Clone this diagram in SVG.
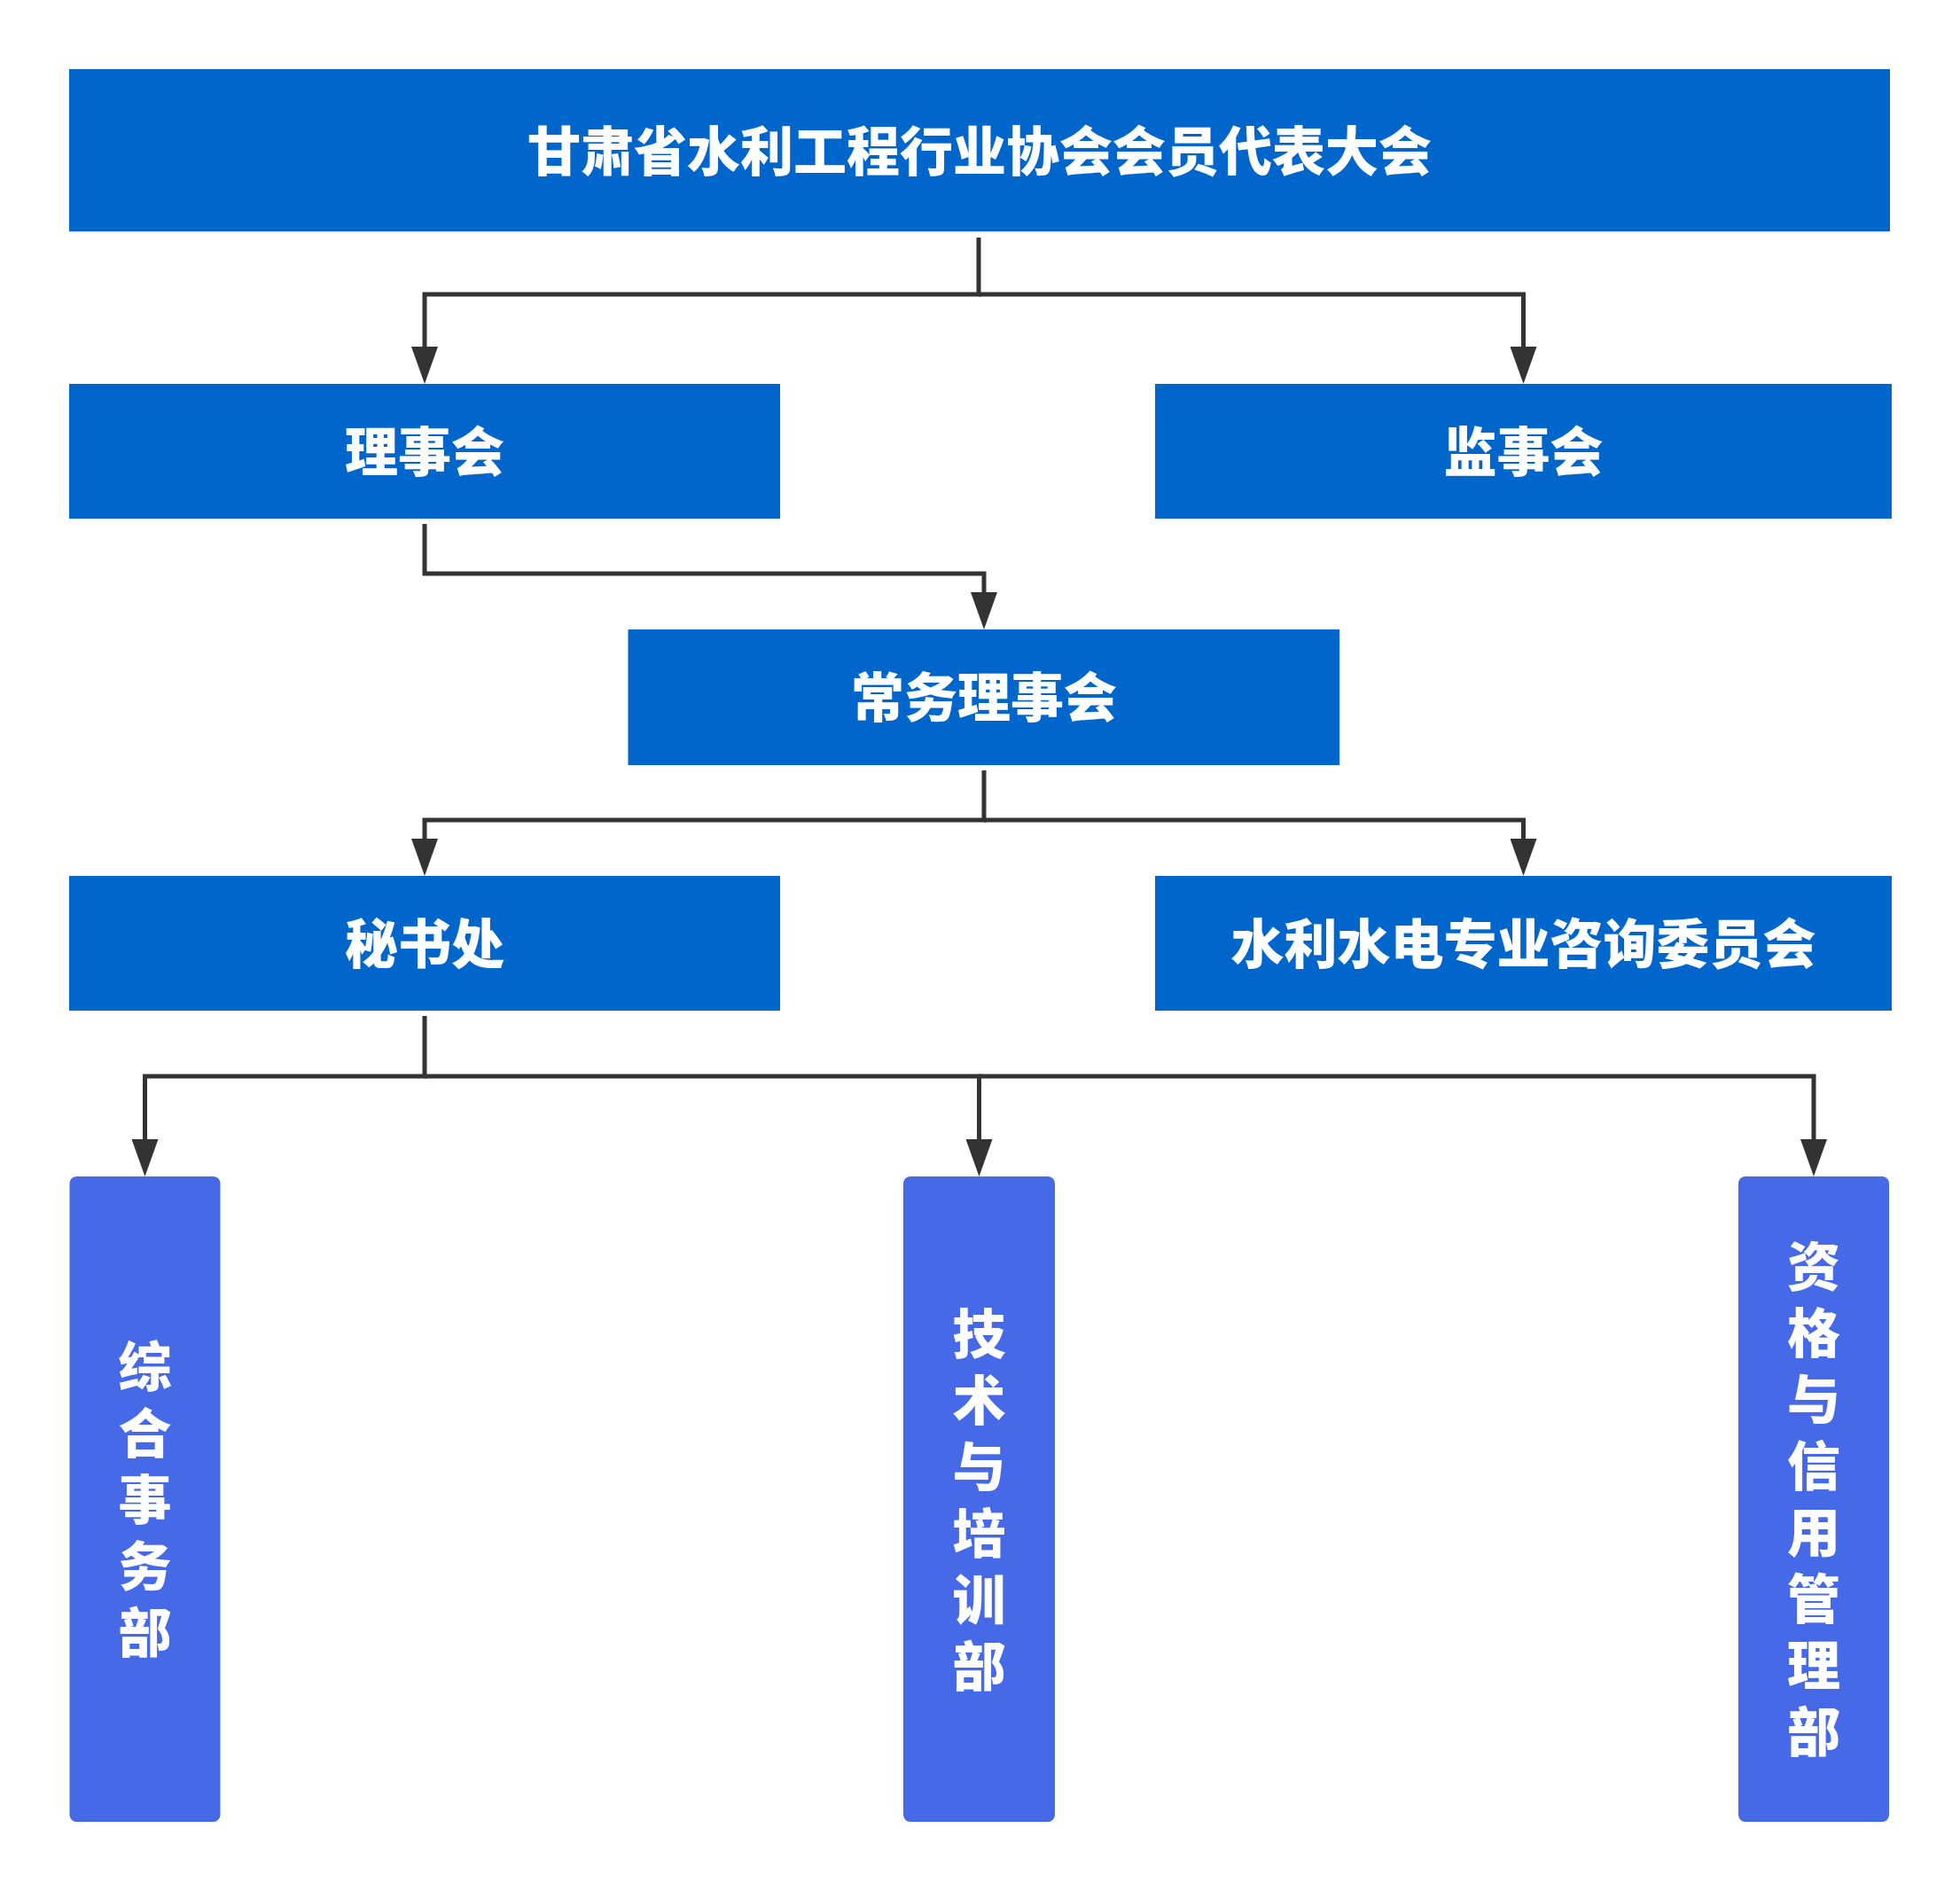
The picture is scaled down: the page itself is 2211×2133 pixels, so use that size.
<svg xmlns="http://www.w3.org/2000/svg" width="2211" height="2133" viewBox="0 0 2211 2133">
<style>
.box{fill:#0066CC}
.sub{fill:#4669E8}
.t{font-family:"Noto Sans CJK SC","Noto Sans",sans-serif;font-weight:900;font-size:60px;fill:#ffffff;text-anchor:middle;dominant-baseline:central}
.c{fill:none;stroke:#333333;stroke-width:5}
</style>
<defs>
<marker id="arr" viewBox="0 -15 42 30" markerWidth="42" markerHeight="30" markerUnits="userSpaceOnUse" refX="20" refY="0" orient="auto">
<path d="M0,-15 L42,0 L0,15 Z" fill="#333333"/>
</marker>
</defs>
<rect width="2211" height="2133" fill="#ffffff"/>
<g id="connectors">
<path class="c" d="M1104 268 V332 H479 V411" marker-end="url(#arr)"/>
<path class="c" d="M1104 332 H1718.5 V411" marker-end="url(#arr)"/>
<path class="c" d="M479 591 V647 H1110 V688" marker-end="url(#arr)"/>
<path class="c" d="M1110 869 V925 H479 V966" marker-end="url(#arr)"/>
<path class="c" d="M1110 925 H1718.5 V966" marker-end="url(#arr)"/>
<path class="c" d="M479 1146 V1214 H163.5 V1305" marker-end="url(#arr)"/>
<path class="c" d="M479 1214 H1104.5 V1305" marker-end="url(#arr)"/>
<path class="c" d="M1104.5 1214 H2046 V1305" marker-end="url(#arr)"/>
</g>
<g id="n-congress">
<rect class="box" x="78" y="78" width="2054" height="183"/>
<text class="t" x="1105" y="166">甘肃省水利工程行业协会会员代表大会</text>
</g>
<g id="n-council">
<rect class="box" x="78" y="433" width="802" height="152"/>
<text class="t" x="479" y="505">理事会</text>
</g>
<g id="n-supervisory">
<rect class="box" x="1303" y="433" width="831" height="152"/>
<text class="t" x="1718.5" y="505">监事会</text>
</g>
<g id="n-standing">
<rect class="box" x="708.5" y="710" width="802.5" height="153"/>
<text class="t" x="1110" y="782.5">常务理事会</text>
</g>
<g id="n-secretariat">
<rect class="box" x="78" y="988" width="802" height="152"/>
<text class="t" x="479" y="1060">秘书处</text>
</g>
<g id="n-consult">
<rect class="box" x="1303" y="988" width="831" height="152"/>
<text class="t" x="1718.5" y="1060">水利水电专业咨询委员会</text>
</g>
<g id="n-general">
<rect class="sub" x="78.5" y="1327" width="170" height="728" rx="8"/>
<text class="t"><tspan x="163.5" y="1537">综</tspan><tspan x="163.5" y="1612">合</tspan><tspan x="163.5" y="1687">事</tspan><tspan x="163.5" y="1762">务</tspan><tspan x="163.5" y="1837">部</tspan></text>
</g>
<g id="n-tech">
<rect class="sub" x="1019" y="1327" width="171" height="728" rx="8"/>
<text class="t"><tspan x="1104.5" y="1499.5">技</tspan><tspan x="1104.5" y="1574.5">术</tspan><tspan x="1104.5" y="1649.5">与</tspan><tspan x="1104.5" y="1724.5">培</tspan><tspan x="1104.5" y="1799.5">训</tspan><tspan x="1104.5" y="1874.5">部</tspan></text>
</g>
<g id="n-credit">
<rect class="sub" x="1961" y="1327" width="170" height="728" rx="8"/>
<text class="t"><tspan x="2046" y="1423.5">资</tspan><tspan x="2046" y="1498.5">格</tspan><tspan x="2046" y="1573.5">与</tspan><tspan x="2046" y="1648.5">信</tspan><tspan x="2046" y="1723.5">用</tspan><tspan x="2046" y="1798.5">管</tspan><tspan x="2046" y="1873.5">理</tspan><tspan x="2046" y="1948.5">部</tspan></text>
</g>
</svg>
